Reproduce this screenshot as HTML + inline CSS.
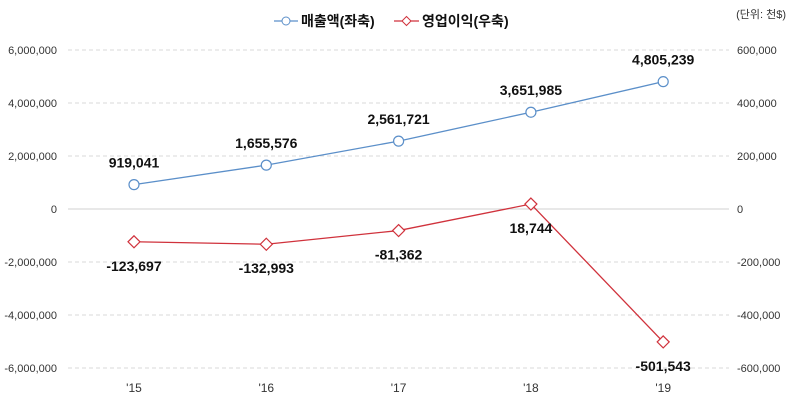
<!DOCTYPE html>
<html><head><meta charset="utf-8"><style>
body{margin:0;background:#fff;}
svg text{font-family:"Liberation Sans","Noto Sans CJK KR",sans-serif;}
</style></head><body>
<svg id="c" width="794" height="406" xmlns="http://www.w3.org/2000/svg"></svg>
<script>
const categories=["'15","'16","'17","'18","'19"];
const salesValues=[919041,1655576,2561721,3651985,4805239];
const opValues=[-123697,-132993,-81362,18744,-501543];
const leftTicks=[6000000,4000000,2000000,0,-2000000,-4000000,-6000000];
const rightTicks=[600000,400000,200000,0,-200000,-400000,-600000];
const salesLabels=["919,041","1,655,576","2,561,721","3,651,985","4,805,239"];
const opLabels=["-123,697","-132,993","-81,362","18,744","-501,543"];
const fmt=v=>v.toLocaleString('en-US');
const svg=document.getElementById('c');
const NS='http://www.w3.org/2000/svg';
function mk(t,a,txt){const e=document.createElementNS(NS,t);for(const k in a)e.setAttribute(k,a[k]);if(txt!==undefined)e.textContent=txt;svg.appendChild(e);return e;}
const X0=68,X1=729,Y0=209,H=159;
const xs=i=>134+i*132.3;
const yL=v=>Y0-v/6000000*H;
const yR=v=>Y0-v/600000*H;
leftTicks.forEach(v=>{const y=yL(v);
 const g=mk('line',{x1:X0,x2:X1,y1:y,y2:y,stroke:v===0?'#d0d0d0':'#d9d9d9','stroke-dasharray':v===0?'':'4,3'});
 
 const t=mk('text',{x:57,y:y+4,'text-anchor':'end','font-size':11,fill:'#333'},fmt(v));
 });
rightTicks.forEach(v=>{const t=mk('text',{x:737,y:yR(v)+4,'font-size':11,fill:'#333'},fmt(v));
 });
categories.forEach((c,i)=>{const t=mk('text',{x:xs(i),y:392,'text-anchor':'middle','font-size':12,fill:'#333'},c);
 });
let p=salesValues.map((v,i)=>xs(i)+','+yL(v)).join(' ');
const sl=mk('polyline',{points:p,fill:'none',stroke:'#5b8fc9','stroke-width':1.3});

p=opValues.map((v,i)=>xs(i)+','+yR(v)).join(' ');
const ol=mk('polyline',{points:p,fill:'none',stroke:'#d0323c','stroke-width':1.3});

salesValues.forEach((v,i)=>{const x=xs(i),y=yL(v);
 const c=mk('circle',{cx:x,cy:y,r:5,fill:'#fff',stroke:'#5b8fc9','stroke-width':1.2});
 
 const t=mk('text',{x:x,y:y-17,'text-anchor':'middle','font-size':14,'font-weight':'bold',fill:'#111'},salesLabels[i]);
 });
opValues.forEach((v,i)=>{const x=xs(i),y=yR(v);
 const d=mk('polygon',{points:`${x},${y-6} ${x+6},${y} ${x},${y+6} ${x-6},${y}`,fill:'#fff',stroke:'#d0323c','stroke-width':1.2});
 
 const t=mk('text',{x:x,y:y+29,'text-anchor':'middle','font-size':14,'font-weight':'bold',fill:'#111'},opLabels[i]);
 });
let l=mk('line',{x1:274,x2:298,y1:21,y2:21,stroke:'#5b8fc9','stroke-width':1.2});
l=mk('circle',{cx:286,cy:21,r:4,fill:'#fff',stroke:'#5b8fc9'});
l=mk('text',{x:301,y:26,'font-size':14,'font-weight':'bold',fill:'#111'},'매출액(좌축)');
l=mk('line',{x1:394,x2:419,y1:21,y2:21,stroke:'#d0323c','stroke-width':1.2});
l=mk('polygon',{points:'406.5,16.5 411,21 406.5,25.5 402,21',fill:'#fff',stroke:'#d0323c'});
l=mk('text',{x:422,y:26,'font-size':14,'font-weight':'bold',fill:'#111'},'영업이익(우축)');
l=mk('text',{x:786,y:18,'text-anchor':'end','font-size':11,fill:'#333'},'(단위: 천$)');
</script>
</body></html>
